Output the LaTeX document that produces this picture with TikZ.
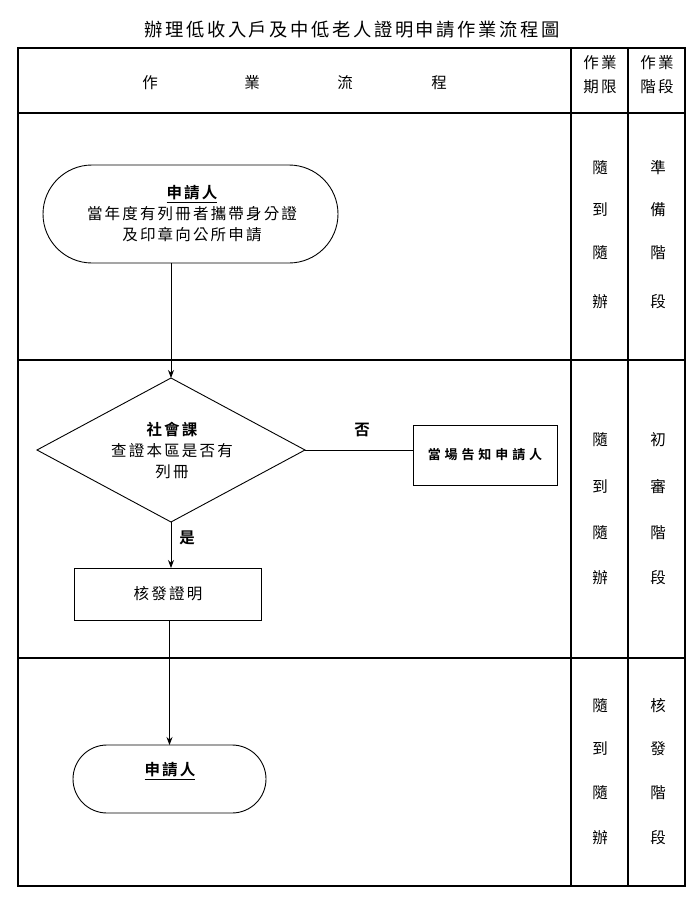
\documentclass[tikz,border=0pt]{standalone}
\usepackage{fontspec}
\setmainfont{Noto Sans CJK TC}
\newfontfamily\cjk[LetterSpace=14]{Noto Sans CJK TC}
\newfontfamily\cjkb[LetterSpace=14]{Noto Sans CJK TC Bold}
\newfontfamily\cjkbw[LetterSpace=30]{Noto Sans CJK TC Bold}
\usetikzlibrary{shapes.geometric,shapes.misc,arrows.meta}
\begin{document}
\begin{tikzpicture}[x=1pt,y=-1pt,
  every node/.style={inner sep=0pt,outer sep=0pt},
  txt/.style={font=\fontsize{15.5}{21}\selectfont\cjk,align=center},
  btxt/.style={font=\fontsize{15.5}{21}\selectfont\cjkb,align=center},
  coltxt/.style={font=\fontsize{15.5}{18}\selectfont\cjk},
  term/.style={draw,line width=0.9pt,rounded rectangle},
  proc/.style={draw,line width=0.9pt,rectangle},
  dec/.style={draw,line width=0.9pt,diamond},
  conn/.style={line width=0.9pt,-{Stealth[length=8pt,width=6pt]}},
  grid/.style={line width=1.3pt}]
\useasboundingbox (0,0) rectangle (700,904);
\fill[white] (0,0) rectangle (700,904);
% title
\node[font=\fontsize{18.3}{22}\selectfont\cjk] (title) at (352,30) {辦理低收入戶及中低老人證明申請作業流程圖};
% table
\draw[grid] (18,48) rectangle (685,886);
\draw[grid] (18,113) -- (685,113);
\draw[grid] (18,360) -- (685,360);
\draw[grid] (18,658) -- (685,658);
\draw[grid] (571,48) -- (571,886);
\draw[grid] (628,48) -- (628,886);
% header
\node[txt] (h1) at (150,83) {作};
\node[txt] (h2) at (252,83) {業};
\node[txt] (h3) at (345,83) {流};
\node[txt] (h4) at (439,83) {程};
\node[coltxt,align=left,font=\fontsize{15.5}{24}\selectfont\cjk] (h5) at (600,75) {作業\\期限};
\node[coltxt,align=left,font=\fontsize{15.5}{24}\selectfont\cjk] (h6) at (657,75) {作業\\階段};
% column texts
\foreach \y/\a/\b [count=\i] in {168/隨/準,210/到/備,253/隨/階,302/辦/段}{
  \node[coltxt] (pa\i) at (600,\y) {\a};
  \node[coltxt] (sa\i) at (658,\y) {\b};}
\foreach \y/\a/\b [count=\i] in {440/隨/初,487/到/審,533/隨/階,578/辦/段}{
  \node[coltxt] (pb\i) at (600,\y) {\a};
  \node[coltxt] (sb\i) at (658,\y) {\b};}
\foreach \y/\a/\b [count=\i] in {706/隨/核,749/到/發,793/隨/階,838/辦/段}{
  \node[coltxt] (pc\i) at (600,\y) {\a};
  \node[coltxt] (sc\i) at (658,\y) {\b};}
% flow
\node[term,minimum width=295pt,minimum height=98pt] (t1) at (190.5,214) {};
\node[txt] (t1t) at (192,214) {{\cjkb\underline{申請人}}\\當年度有列冊者攜帶身分證\\及印章向公所申請};
\node[dec,minimum width=268pt,minimum height=144pt] (d) at (171,450) {};
\node[txt] (dt) at (172,450) {{\cjkb 社會課}\\查證本區是否有\\列冊};
\node[proc,minimum width=144pt,minimum height=60pt,font=\fontsize{13}{16}\selectfont\cjkbw] (no) at (485,455) {當場告知申請人};
\node[btxt] (nolab) at (362,430) {否};
\node[btxt] (yeslab) at (187,538) {是};
\node[proc,minimum width=187pt,minimum height=52pt] (yes) at (167.5,594) {};
\node[txt] (yest) at (168,594) {核發證明};
\node[term,minimum width=193pt,minimum height=68pt] (t2) at (169.5,779) {};
\node[txt] (t2t) at (170,771) {{\cjkb\underline{申請人}}};
% connectors
\draw[conn] (t1.south -| d.north) -- (d.north);
\draw[line width=0.9pt] (d.east) -- (d.east -| no.west);
\draw[conn] (d.south) -- (d.south |- yes.north);
\draw[conn] (yes.south -| t2.north) -- (t2.north);
\end{tikzpicture}
\end{document}
